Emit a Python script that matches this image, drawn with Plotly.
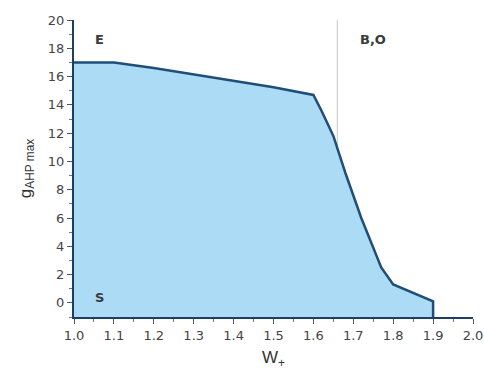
import plotly.graph_objects as go

# data
w_plus = [1.0, 1.1, 1.2, 1.3, 1.4, 1.5, 1.6, 1.62, 1.65, 1.68, 1.72, 1.76, 1.77, 1.8, 1.9, 1.9]
g_ahp_max = [17.0, 17.0, 16.6, 16.15, 15.75, 15.25, 14.7, 13.6, 11.8, 9.2, 6.0, 3.2, 2.5, 1.3, 0.1, -1.0]
x_range = [1.0, 2.0]
y_range = [-1.0, 20.0]
boundary_x = 1.66
region_labels = ["E", "B,O", "S"]
label_x = [1.065, 1.75, 1.065]
label_y = [18.6, 18.6, 0.4]

poly_x = [x_range[0]] + w_plus + [w_plus[0]]
poly_y = [y_range[0]] + g_ahp_max + [y_range[0]]

fig = go.Figure()
fig.add_trace(go.Scatter(
    x=poly_x, y=poly_y, fill="toself", fillcolor="#abdbf5",
    mode="lines", line=dict(width=0), hoverinfo="skip", showlegend=False))
fig.add_trace(go.Scatter(
    x=w_plus, y=g_ahp_max, mode="lines",
    line=dict(color="#1d4f7a", width=2.5), showlegend=False))

fig.add_shape(type="line", x0=boundary_x, x1=boundary_x, y0=y_range[0], y1=y_range[1],
              xref="x", yref="y", line=dict(color="#c8c8c8", width=1), layer="below")

for t, xx, yy in zip(region_labels, label_x, label_y):
    fig.add_annotation(x=xx, y=yy, text="<b>" + t + "</b>", showarrow=False,
                       font=dict(family="DejaVu Sans", size=13, color="#3a3a3a"),
                       xanchor="center", yanchor="middle")

fig.update_layout(
    width=484, height=370,
    margin=dict(l=74, r=11, t=20, b=53),
    plot_bgcolor="white", paper_bgcolor="white",
    font=dict(family="DejaVu Sans", color="#333333", size=11),
)
fig.update_xaxes(
    range=x_range, dtick=0.1, tick0=1.0, tickformat=".1f", automargin=False,
    showgrid=False, zeroline=False, showline=True, linecolor="#1d3f63", linewidth=2,
    ticks="outside", ticklen=5, tickcolor="#555555",
    minor=dict(dtick=0.05, ticks="outside", ticklen=3, tickcolor="#777777"),
    title=dict(text="W<sub>+</sub>", font=dict(size=17, family="Liberation Sans", color="#333333"), standoff=11),
    tickfont=dict(size=13, family="DejaVu Sans", color="#444444"),
)
fig.update_yaxes(
    range=y_range, dtick=2, tick0=0, automargin=False,
    showgrid=False, zeroline=False, showline=True, linecolor="#1d3f63", linewidth=2,
    ticks="outside", ticklen=5, tickcolor="#555555",
    minor=dict(dtick=1, ticks="outside", ticklen=3, tickcolor="#777777"),
    title=dict(text="g<sub>AHP max</sub>", font=dict(size=17, family="Liberation Sans", color="#333333"), standoff=12),
    tickfont=dict(size=13, family="DejaVu Sans", color="#444444"),
)

fig.write_html("out.html")
